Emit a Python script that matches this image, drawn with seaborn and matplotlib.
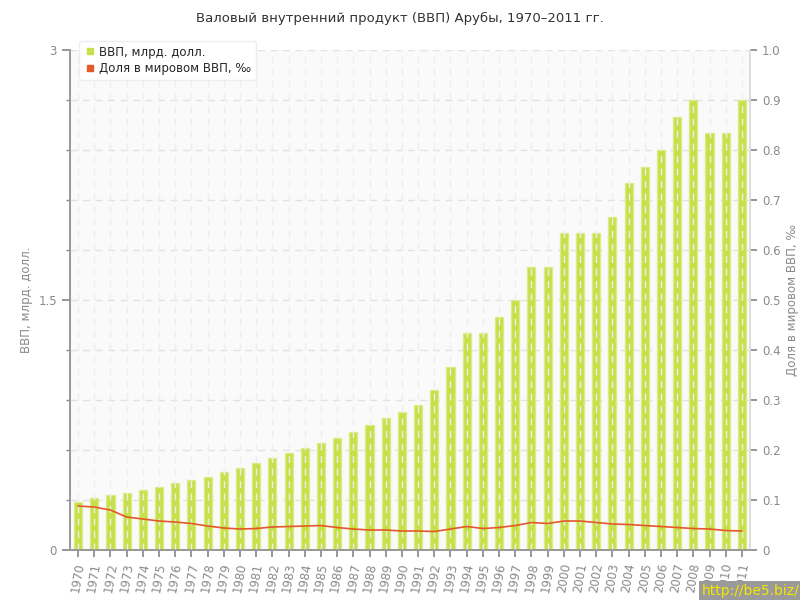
import numpy as np
import pandas as pd
import matplotlib
matplotlib.use('Agg')
import matplotlib.pyplot as plt
import seaborn as sns

years = [str(y) for y in range(1970, 2012)]
gdp = [0.29, 0.31, 0.33, 0.34, 0.36, 0.38, 0.40, 0.42, 0.44, 0.47,
       0.49, 0.52, 0.55, 0.58, 0.61, 0.64, 0.67, 0.71, 0.75, 0.79,
       0.83, 0.87, 0.96, 1.10, 1.30, 1.30, 1.40, 1.50, 1.70, 1.70,
       1.90, 1.90, 1.90, 2.00, 2.20, 2.30, 2.40, 2.60, 2.70, 2.50,
       2.50, 2.70]
share = [0.088, 0.086, 0.080, 0.066, 0.062, 0.058, 0.056, 0.053, 0.048, 0.044,
         0.042, 0.043, 0.046, 0.047, 0.048, 0.049, 0.045, 0.042, 0.040, 0.040,
         0.038, 0.038, 0.037, 0.042, 0.047, 0.043, 0.045, 0.049, 0.055, 0.053,
         0.058, 0.058, 0.055, 0.052, 0.051, 0.049, 0.047, 0.045, 0.043, 0.042,
         0.039, 0.038]

title = 'Валовый внутренний продукт (ВВП) Арубы, 1970–2011 гг.'
left_label = 'ВВП, млрд. долл.'
right_label = 'Доля в мировом ВВП, ‰'

df = pd.DataFrame({'year': years, 'gdp': gdp, 'share': share})
df['pos'] = np.arange(len(df))

sns.set_theme(style='white')
plt.rcParams['font.family'] = ['DejaVu Sans']

grey = '#8a8a8a'
bar_col = '#c6e04a'
line_col = '#e4582a'

fig = plt.figure(figsize=(8, 6), dpi=100)
ax = fig.add_axes([0.0875, 0.0833, 0.85, 0.8334])
ax.set_facecolor('#fafafa')

sns.barplot(data=df, x='year', y='gdp', color=bar_col, width=0.5,
            edgecolor='#d9ec86', linewidth=1, saturation=1, ax=ax, zorder=2)
ax.set_xlim(-0.5, len(df) - 0.5)
ax.set_ylim(0, 3)

# dashed grid, vertical lines drawn over the bars
for y in np.arange(0.3, 3.0, 0.3):
    ax.axhline(y, color='#e2e2e2', lw=1, ls=(0, (5, 4)), zorder=1)
for p in df['pos']:
    ax.axvline(p, color='#eeeeee', lw=1, ls=(0, (5, 4)), zorder=3)

ax.set_yticks([0, 1.5, 3])
ax.set_yticklabels(['0', '1.5', '3'])
ax.set_yticks(np.arange(0.3, 3.0, 0.3), minor=True)
ax.tick_params(axis='y', which='major', length=6, color=grey, labelcolor=grey,
               labelsize=8.5, left=True)
ax.tick_params(axis='y', which='minor', length=3, color=grey, left=True)
ax.tick_params(axis='x', length=5, color=grey, labelcolor=grey, labelsize=8.5,
               bottom=True, rotation=80)
ax.set_xlabel('')
ax.set_ylabel(left_label, color=grey, fontsize=8.5)

ax2 = ax.twinx()
sns.lineplot(data=df, x='pos', y='share', color=line_col, lw=1.2, ax=ax2, zorder=4)
ax2.set_ylim(0, 1)
ax2.set_yticks(np.arange(0, 1.01, 0.1))
ax2.set_yticklabels(['0'] + [f'{v:.1f}' for v in np.arange(0.1, 1.01, 0.1)])
ax2.tick_params(axis='y', length=5, color=grey, labelcolor=grey, labelsize=8.5, right=True)
ax2.set_ylabel(right_label, color=grey, fontsize=8.5)

for a in (ax, ax2):
    for s in a.spines.values():
        s.set_visible(False)
    a.spines['left'].set_visible(True)
    a.spines['right'].set_visible(True)
    a.spines['bottom'].set_visible(True)
    a.spines['left'].set_color('#999999')
    a.spines['right'].set_color('#dddddd')
    a.spines['bottom'].set_color('#999999')

fig.text(0.5, 0.97, title, ha='center', va='center', fontsize=9.5, color='#333333')

handles = [plt.Line2D([], [], marker='s', ls='', color=bar_col, markersize=5),
           plt.Line2D([], [], marker='s', ls='', color=line_col, markersize=5)]
leg = ax.legend(handles, [left_label, right_label], loc='upper left',
                bbox_to_anchor=(0.005, 1.03), fontsize=8.5, frameon=True,
                fancybox=True, framealpha=1, edgecolor='#eeeeee',
                handletextpad=0.3, borderpad=0.4, labelspacing=0.3,
                handlelength=1.0)
leg.set_zorder(10)

fig.text(0.999, 0.003, 'http://be5.biz/', ha='right', va='bottom', fontsize=10,
         color='#f5e600', bbox=dict(facecolor='#9a9a9a', edgecolor='none', pad=2))

fig.savefig('out.png', dpi=100)
